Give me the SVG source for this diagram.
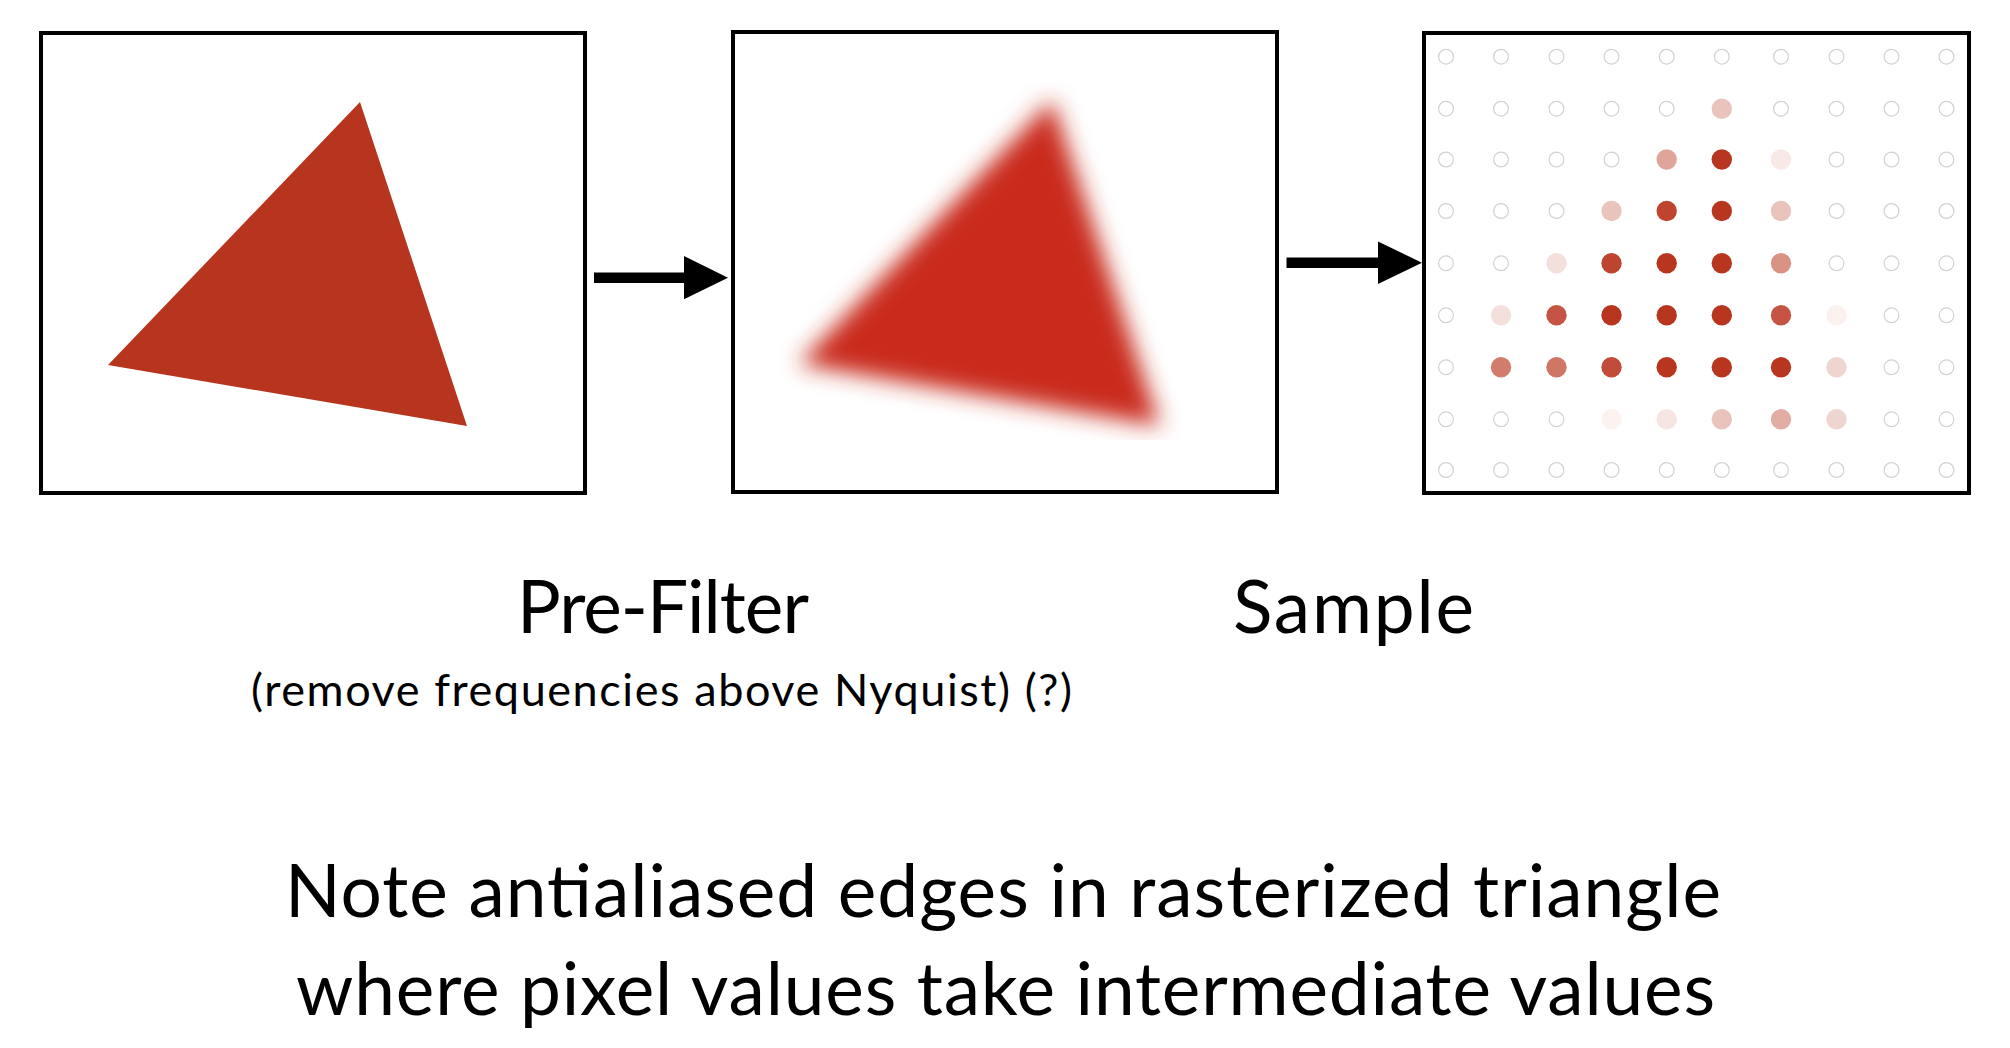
<svg xmlns="http://www.w3.org/2000/svg" width="2010" height="1048" viewBox="0 0 2010 1048">
<style>
.frame{fill:#ffffff;stroke:#000000;stroke-width:4}
.tri{fill:#B7351F}
.tri2{fill:#C92A1F}
.e{fill:none;stroke:#D2D2D2;stroke-width:1.2}
.big{font-family:Lato,"Liberation Sans",sans-serif;font-size:73px;fill:#000000}
.sub{font-family:Lato,"Liberation Sans",sans-serif;font-size:45px;fill:#000000}
.shaft{stroke:#000000;stroke-width:10.5;fill:none}
.head{fill:#000000}
</style>
<defs>
<filter id="blur" x="-30%" y="-30%" width="160%" height="160%">
<feGaussianBlur stdDeviation="11"/>
</filter>
<clipPath id="clipBlur">
<rect x="735" y="34" width="540" height="406"/>
</clipPath>
</defs>
<rect x="0" y="0" width="2010" height="1048" fill="#ffffff"/>

<g id="box-original">
<rect class="frame" x="41" y="33" width="544" height="460"/>
<polygon class="tri" points="360,102 108,365 467,426"/>
</g>

<g id="box-prefilter">
<rect class="frame" x="733" y="32" width="544" height="460"/>
<g clip-path="url(#clipBlur)">
<polygon class="tri2" filter="url(#blur)" points="1052,100 799,364 1160,426"/>
</g>
</g>

<g id="box-sample">
<rect class="frame" x="1424" y="33" width="545" height="460"/>
<g id="grid">
<g transform="translate(0,56.7)">
<circle class="e" cx="1446" cy="0" r="7.4"/><circle class="e" cx="1501" cy="0" r="7.4"/><circle class="e" cx="1556.5" cy="0" r="7.4"/><circle class="e" cx="1611.5" cy="0" r="7.4"/><circle class="e" cx="1666.7" cy="0" r="7.4"/><circle class="e" cx="1721.8" cy="0" r="7.4"/><circle class="e" cx="1781" cy="0" r="7.4"/><circle class="e" cx="1836.5" cy="0" r="7.4"/><circle class="e" cx="1891.5" cy="0" r="7.4"/><circle class="e" cx="1946.5" cy="0" r="7.4"/>
</g>
<g transform="translate(0,108.7)">
<circle class="e" cx="1446" cy="0" r="7.4"/><circle class="e" cx="1501" cy="0" r="7.4"/><circle class="e" cx="1556.5" cy="0" r="7.4"/><circle class="e" cx="1611.5" cy="0" r="7.4"/><circle class="e" cx="1666.7" cy="0" r="7.4"/><circle fill="#E9C4BC" cx="1721.8" cy="0" r="10.2"/><circle class="e" cx="1781" cy="0" r="7.4"/><circle class="e" cx="1836.5" cy="0" r="7.4"/><circle class="e" cx="1891.5" cy="0" r="7.4"/><circle class="e" cx="1946.5" cy="0" r="7.4"/>
</g>
<g transform="translate(0,159.5)">
<circle class="e" cx="1446" cy="0" r="7.4"/><circle class="e" cx="1501" cy="0" r="7.4"/><circle class="e" cx="1556.5" cy="0" r="7.4"/><circle class="e" cx="1611.5" cy="0" r="7.4"/><circle fill="#DFA59A" cx="1666.7" cy="0" r="10.2"/><circle fill="#B8361F" cx="1721.8" cy="0" r="10.2"/><circle fill="#F8E8E6" cx="1781" cy="0" r="10.2"/><circle class="e" cx="1836.5" cy="0" r="7.4"/><circle class="e" cx="1891.5" cy="0" r="7.4"/><circle class="e" cx="1946.5" cy="0" r="7.4"/>
</g>
<g transform="translate(0,211)">
<circle class="e" cx="1446" cy="0" r="7.4"/><circle class="e" cx="1501" cy="0" r="7.4"/><circle class="e" cx="1556.5" cy="0" r="7.4"/><circle fill="#E9C4BC" cx="1611.5" cy="0" r="10.2"/><circle fill="#BF4430" cx="1666.7" cy="0" r="10.2"/><circle fill="#B8361F" cx="1721.8" cy="0" r="10.2"/><circle fill="#E9C4BC" cx="1781" cy="0" r="10.2"/><circle class="e" cx="1836.5" cy="0" r="7.4"/><circle class="e" cx="1891.5" cy="0" r="7.4"/><circle class="e" cx="1946.5" cy="0" r="7.4"/>
</g>
<g transform="translate(0,263.3)">
<circle class="e" cx="1446" cy="0" r="7.4"/><circle class="e" cx="1501" cy="0" r="7.4"/><circle fill="#F3DFDB" cx="1556.5" cy="0" r="10.2"/><circle fill="#BF4430" cx="1611.5" cy="0" r="10.2"/><circle fill="#B8361F" cx="1666.7" cy="0" r="10.2"/><circle fill="#B8361F" cx="1721.8" cy="0" r="10.2"/><circle fill="#D99284" cx="1781" cy="0" r="10.2"/><circle class="e" cx="1836.5" cy="0" r="7.4"/><circle class="e" cx="1891.5" cy="0" r="7.4"/><circle class="e" cx="1946.5" cy="0" r="7.4"/>
</g>
<g transform="translate(0,315.3)">
<circle class="e" cx="1446" cy="0" r="7.4"/><circle fill="#F3DFDB" cx="1501" cy="0" r="10.2"/><circle fill="#C65444" cx="1556.5" cy="0" r="10.2"/><circle fill="#B8361F" cx="1611.5" cy="0" r="10.2"/><circle fill="#B8361F" cx="1666.7" cy="0" r="10.2"/><circle fill="#B8361F" cx="1721.8" cy="0" r="10.2"/><circle fill="#C65444" cx="1781" cy="0" r="10.2"/><circle fill="#FBF1EF" cx="1836.5" cy="0" r="10.2"/><circle class="e" cx="1891.5" cy="0" r="7.4"/><circle class="e" cx="1946.5" cy="0" r="7.4"/>
</g>
<g transform="translate(0,367.3)">
<circle class="e" cx="1446" cy="0" r="7.4"/><circle fill="#D27C6E" cx="1501" cy="0" r="10.2"/><circle fill="#CF7666" cx="1556.5" cy="0" r="10.2"/><circle fill="#C24C39" cx="1611.5" cy="0" r="10.2"/><circle fill="#B8361F" cx="1666.7" cy="0" r="10.2"/><circle fill="#B8361F" cx="1721.8" cy="0" r="10.2"/><circle fill="#B8361F" cx="1781" cy="0" r="10.2"/><circle fill="#EFD5D0" cx="1836.5" cy="0" r="10.2"/><circle class="e" cx="1891.5" cy="0" r="7.4"/><circle class="e" cx="1946.5" cy="0" r="7.4"/>
</g>
<g transform="translate(0,419.3)">
<circle class="e" cx="1446" cy="0" r="7.4"/><circle class="e" cx="1501" cy="0" r="7.4"/><circle class="e" cx="1556.5" cy="0" r="7.4"/><circle fill="#FCF3F1" cx="1611.5" cy="0" r="10.2"/><circle fill="#F6E5E2" cx="1666.7" cy="0" r="10.2"/><circle fill="#E9C4BC" cx="1721.8" cy="0" r="10.2"/><circle fill="#E1ADA4" cx="1781" cy="0" r="10.2"/><circle fill="#EFD5D0" cx="1836.5" cy="0" r="10.2"/><circle class="e" cx="1891.5" cy="0" r="7.4"/><circle class="e" cx="1946.5" cy="0" r="7.4"/>
</g>
<g transform="translate(0,470)">
<circle class="e" cx="1446" cy="0" r="7.4"/><circle class="e" cx="1501" cy="0" r="7.4"/><circle class="e" cx="1556.5" cy="0" r="7.4"/><circle class="e" cx="1611.5" cy="0" r="7.4"/><circle class="e" cx="1666.7" cy="0" r="7.4"/><circle class="e" cx="1721.8" cy="0" r="7.4"/><circle class="e" cx="1781" cy="0" r="7.4"/><circle class="e" cx="1836.5" cy="0" r="7.4"/><circle class="e" cx="1891.5" cy="0" r="7.4"/><circle class="e" cx="1946.5" cy="0" r="7.4"/>
</g>
</g>
</g>

<g id="connectors">
<line class="shaft" x1="594" y1="277.7" x2="686" y2="277.7"/>
<polygon class="head" points="684,256 728,277.7 684,299.3"/>
<line class="shaft" x1="1286.5" y1="262.7" x2="1380" y2="262.7"/>
<polygon class="head" points="1378,241.5 1422,262.7 1378,284"/>
</g>

<g id="labels">
<text class="big" x="517" y="633" textLength="292">Pre-Filter</text>
<text class="sub" x="251" y="706" textLength="821">(remove frequencies above Nyquist) (?)</text>
<text class="big" x="1233" y="633" textLength="241">Sample</text>
<text class="big" x="285" y="917" textLength="1436">Note antialiased edges in rasterized triangle</text>
<text class="big" x="296" y="1015" textLength="1419">where pixel values take intermediate values</text>
</g>
</svg>
